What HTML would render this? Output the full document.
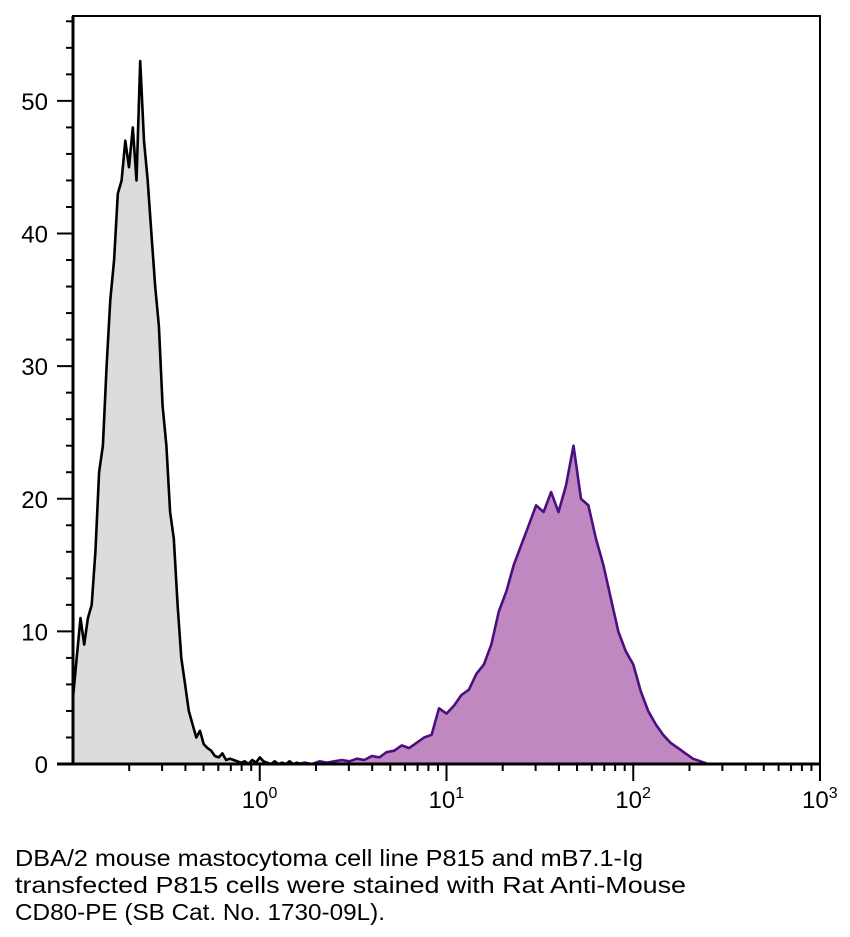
<!DOCTYPE html>
<html><head><meta charset="utf-8"><style>
html,body{margin:0;padding:0;background:#fff;width:850px;height:937px;overflow:hidden}
svg{display:block;font-family:"Liberation Sans",sans-serif}
</style></head><body>
<svg id="chart" width="850" height="937" viewBox="0 0 850 937">
<g id="plot"></g>
<g id="axes"></g>
<g font-size="23" fill="#000">
<text x="15" y="866" textLength="628" lengthAdjust="spacingAndGlyphs">DBA/2 mouse mastocytoma cell line P815 and mB7.1-Ig</text>
<text x="15" y="893" textLength="671" lengthAdjust="spacingAndGlyphs">transfected P815 cells were stained with Rat Anti-Mouse</text>
<text x="15" y="920" textLength="370" lengthAdjust="spacingAndGlyphs">CD80-PE (SB Cat. No. 1730-09L).</text>
</g>
</svg>
<script>
const controlStart = -1.0;
const controlStep = 0.02;
const controlCounts = [5,8,11,9,11,12,16,22,24,30,35,38,43,44,47,45,48,44,53,47,44,40,36,33,27,24,19,17,12,8,6,4,3,2,2.5,1.5,1.2,1,0.6,0.5,0.8,0.3,0.4,0.3,0.2,0.1,0.2,0,0.3,0.1,0.5,0.2,0.1,0,0.2,0,0.1,0,0.2,0,0.1,0,0.1,0,0];
const stainedStart = 0.2;
const stainedStep = 0.04;
const stainedCounts = [0,0.1,0,0.2,0.1,0.2,0.3,0.2,0.4,0.3,0.6,0.5,0.9,1.0,1.4,1.2,1.6,2.0,2.2,4.2,3.8,4.4,5.2,5.6,6.8,7.5,9,11.5,13,15,16.5,18,19.5,19,20.5,19,21,24,20,19.5,17,15,12.5,10,8.5,7.5,5.5,4,3,2.2,1.6,1.2,0.8,0.4,0.2,0,0];
const yTicks = [0,10,20,30,40,50];
const xDecades = [0,1,2,3];

const L=73,R=820,T=16,B=764,LMIN=-1,LMAX=3,YMAX=56.4;
const xs=l=>L+(l-LMIN)/(LMAX-LMIN)*(R-L);
const ys=v=>B-v/YMAX*(B-T);
const NS="http://www.w3.org/2000/svg";
function mk(tag,attrs,parent){const e=document.createElementNS(NS,tag);for(const k in attrs)e.setAttribute(k,attrs[k]);parent.appendChild(e);return e;}
const plot=document.getElementById('plot'), axes=document.getElementById('axes');

function drawHist(start,step,counts,fill,stroke,name){
  const pts=counts.map((c,i)=>[xs(start+i*step),ys(c)]);
  const d='M'+pts[0][0]+','+B+' '+pts.map(p=>'L'+p[0].toFixed(1)+','+p[1].toFixed(1)).join(' ')+' L'+pts[pts.length-1][0]+','+B+' Z';
  const a=mk('path',{d:d,fill:fill,stroke:'none'},plot);
  
  
  const l=mk('polyline',{points:pts.map(p=>p[0].toFixed(1)+','+p[1].toFixed(1)).join(' '),fill:'none',stroke:stroke,'stroke-width':2.6,'stroke-linejoin':'round'},plot);
  
  
}
drawHist(controlStart,controlStep,controlCounts,'#dcdcdc','#000','control-histogram');
drawHist(stainedStart,stainedStep,stainedCounts,'#bf88c0','#4b0f7f','stained-histogram');

const frame=mk('rect',{x:L,y:T,width:R-L,height:B-T,fill:'none',stroke:'#000','stroke-width':2},axes);


const xb=mk('line',{x1:57,y1:B,x2:R,y2:B,stroke:'#000','stroke-width':3},axes);


const yb=mk('line',{x1:L,y1:T,x2:L,y2:B,stroke:'#000','stroke-width':3},axes);


for(let v=0;v<=56;v+=2){
  const major=yTicks.includes(v);
  const t=mk('line',{x1:major?57:66,y1:ys(v),x2:L,y2:ys(v),stroke:'#000','stroke-width':2},axes);
  
  
}
yTicks.forEach(v=>{
  const t=mk('text',{x:48,y:ys(v)+9,'font-size':24,'text-anchor':'end'},axes);
  t.textContent=v;
  
  
});
for(let d=-1;d<3;d++){for(let m=2;m<=9;m++){
  const x=xs(d+Math.log10(m));
  const t=mk('line',{x1:x,y1:B,x2:x,y2:B+7,stroke:'#000','stroke-width':2},axes);
  
  
}}
xDecades.forEach(d=>{
  const x=xs(d);
  const t=mk('line',{x1:x,y1:B,x2:x,y2:B+17,stroke:'#000','stroke-width':2},axes);
  
  
  const tx=mk('text',{x:x-18,y:B+44,'font-size':24},axes);
  
  
  tx.appendChild(document.createTextNode('10'));
  const s=mk('tspan',{dy:-10,'font-size':16},tx);
  s.textContent=d;
});
</script>
</body></html>
